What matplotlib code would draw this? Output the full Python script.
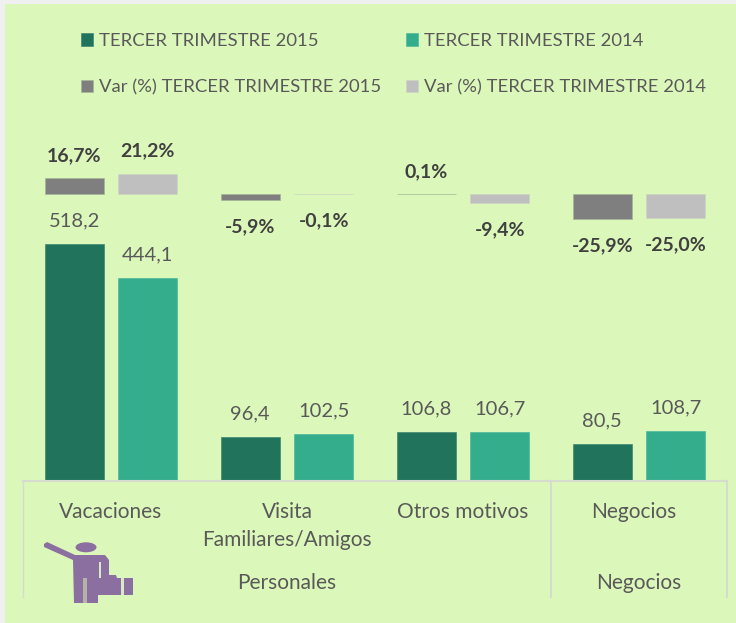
import matplotlib
matplotlib.use('Agg')

import numpy as np
import matplotlib.pyplot as plt
from matplotlib.patches import Ellipse, Polygon, Rectangle
from matplotlib.transforms import ScaledTranslation

W, H = 736, 623
BG = '#DCF7BA'
LINE = '#D6DBD0'

categories = ['Vacaciones', 'Visita\nFamiliares/Amigos', 'Otros motivos', 'Negocios']
groups = ['Personales', 'Negocios']
group_spans = [(0, 3), (3, 4)]

values_2015 = [518.2, 96.4, 106.8, 80.5]
values_2014 = [444.1, 102.5, 106.7, 108.7]
var_2015 = [16.7, -5.9, 0.1, -25.9]
var_2014 = [21.2, -0.1, -9.4, -25.0]

plt.rcParams['font.family'] = ['Lato', 'DejaVu Sans']


def comma(v, suffix=''):
    return f'{v:.1f}'.replace('.', ',') + suffix


def px_box(left, top, right, bottom):
    """Figure-fraction rectangle from pixel edges (y measured from the top)."""
    return [left / W, 1 - bottom / H, (right - left) / W, (bottom - top) / H]


fig = plt.figure(figsize=(W / 100, H / 100), dpi=100, facecolor=BG)

# pale frame strip of the screenshot, left and top
fig.add_artist(Rectangle((0, 0), 5 / W, 1, transform=fig.transFigure, color='#F0F0F0', lw=0))
fig.add_artist(Rectangle((0, 1 - 4 / H), 1, 4 / H, transform=fig.transFigure, color='#F0F0F0', lw=0))

# bars share one plot area, with separate value scales
top_px, base_px, zero_px = 100, 481, 194
px_per_unit = 0.457
px_per_pct = 0.96

ax = fig.add_axes(px_box(23, top_px, 727, base_px))
ax.set_facecolor('none')
ax.set_xlim(-0.5, 3.5)
ax.set_ylim(0, (base_px - top_px) / px_per_unit)

ax2 = fig.add_axes(px_box(23, top_px, 727, base_px), sharex=ax)
ax2.set_facecolor('none')
ax2.set_ylim(-(base_px - zero_px) / px_per_pct, (zero_px - top_px) / px_per_pct)
ax2.axis('off')

x = np.arange(len(categories))
offset = 36.7 / 176
width = 58.5 / 176

b1 = ax.bar(x - offset, values_2015, width, color='#22735C', edgecolor='#3E8A74', lw=0.5)
b2 = ax.bar(x + offset, values_2014, width, color='#33AD8C', edgecolor='#4FBA9C', lw=0.5)
b3 = ax2.bar(x - offset, var_2015, width, color='#7F7F7F', edgecolor='#A5B59A', lw=0.5)
b4 = ax2.bar(x + offset, var_2014, width, color='#BFBFBF', edgecolor='#CCD4C2', lw=0.5)

for bars, vals in ((b1, values_2015), (b2, values_2014)):
    for bar, v in zip(bars, vals):
        ax.annotate(comma(v), (bar.get_x() + width / 2, v), xytext=(0, 23), textcoords='offset pixels',
                    ha='center', va='center', fontsize=14.5, color='#595959')

for bars, vals in ((b3, var_2015), (b4, var_2014)):
    for bar, v in zip(bars, vals):
        dy = 22.5 if v > 0 else -27
        ax2.annotate(comma(v, '%'), (bar.get_x() + width / 2, v), xytext=(0, dy), textcoords='offset pixels',
                     ha='center', va='center', fontsize=14, fontweight='bold', color='#404040')

# axis: baseline on top of a two-level category table
for side in ('top', 'right', 'left'):
    ax.spines[side].set_visible(False)
ax.spines['bottom'].set_color(LINE)
ax.spines['bottom'].set_linewidth(1.5)
ax.set_yticks([])
ax.set_xticks(x)
ax.set_xticklabels(categories, fontsize=15, color='#595959', linespacing=1.5, va='top')
ax.tick_params(axis='x', length=0, pad=15)

# the last label sits a little left of its tick in the original
last = ax.get_xticklabels()[-1]
last.set_transform(last.get_transform() + ScaledTranslation(-5 / 100, 0, fig.dpi_scale_trans))

trans = ax.get_xaxis_transform()
for edge, lw in ((-0.5, 1.0), (2.5, 1.5), (3.5, 1.5)):
    ax.plot([edge, edge], [0, -116 / (base_px - top_px)], transform=trans, color=LINE, lw=lw, clip_on=False)
for name, (start, stop) in zip(groups, group_spans):
    ax.text((start + stop - 1) / 2, -102 / (base_px - top_px), name, transform=trans, ha='center', va='center',
            fontsize=15, color='#595959')

fig.legend([b1, b3, b2, b4],
           ['TERCER TRIMESTRE 2015', 'Var (%) TERCER TRIMESTRE 2015',
            'TERCER TRIMESTRE 2014', 'Var (%) TERCER TRIMESTRE 2014'],
           ncol=2, frameon=False, loc='upper left', bbox_to_anchor=(81 / W, 1 - 33 / H),
           fontsize=13.3, labelcolor='#595959', handlelength=0.67, handleheight=0.67, handletextpad=0.28,
           columnspacing=1.37, labelspacing=1.65, borderpad=0, borderaxespad=0)

# traveller icon, drawn in pixel space
icon = fig.add_axes([0, 0, 1, 1], zorder=5)
icon.set_xlim(0, W)
icon.set_ylim(H, 0)
icon.axis('off')
PURPLE = '#8A6FA0'
icon.add_patch(Ellipse((86, 547.3), 21, 10, color=PURPLE, lw=0))
icon.add_patch(Polygon([(44, 544), (47, 542), (75, 555), (105, 555), (109, 560), (109, 575), (116, 575), (117, 578),
                        (133, 578), (133, 595), (98, 595), (98, 603), (74, 603), (73, 560), (44, 547)],
                       color=PURPLE, lw=0))
icon.add_patch(Rectangle((83, 578), 4, 25, color='#B5B3A8', lw=0))
icon.add_patch(Rectangle((99, 562), 2, 16, color='#DCE8C4', lw=0))
icon.add_patch(Rectangle((121, 578), 3, 17, color='#DCE8C4', lw=0))

fig.savefig('out.png', dpi=100, facecolor=fig.get_facecolor())
plt.close(fig)
